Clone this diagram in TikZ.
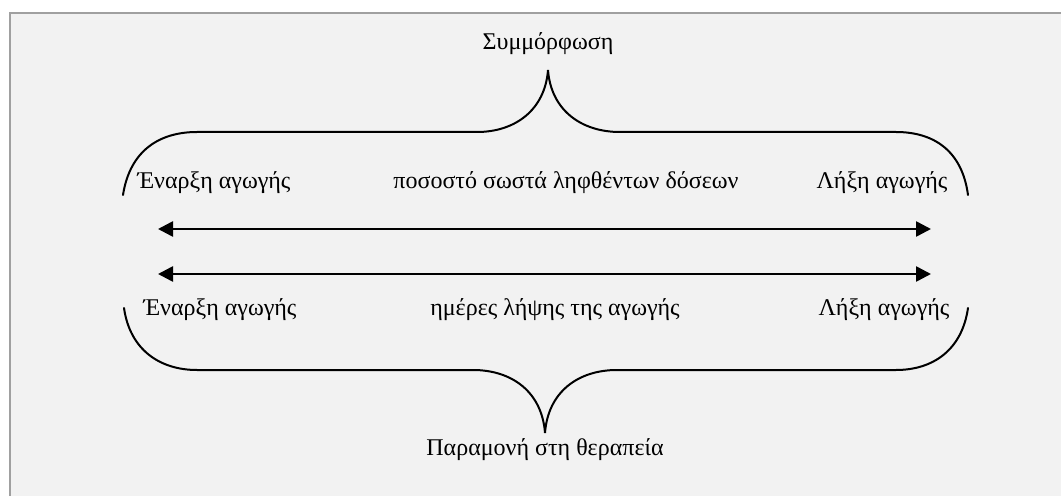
\documentclass[tikz,border=0pt]{standalone}
\usepackage{fontspec}
\setmainfont{Liberation Serif}
\usetikzlibrary{arrows.meta}
\definecolor{panel}{HTML}{F2F2F2}
\definecolor{rim}{HTML}{A0A0A0}
\begin{document}
\begin{tikzpicture}[x=1pt,y=1pt,
  label/.style={inner sep=0pt,font=\fontsize{24}{28}\selectfont},
  brace/.style={line width=2pt,line cap=round},
  span/.style={line width=2.6pt,{Triangle[length=15pt,width=15pt]}-{Triangle[length=15pt,width=15pt]}}]
  % canvas and panel
  \useasboundingbox (0,0) rectangle (1061,496);
  \fill[white] (0,0) rectangle (1061,496);
  \fill[panel] (10,0) rectangle (1061,483);
  \draw[rim,line width=1.5pt] (10,0) -- (10,483) -- (1061,483);

  % headings
  \node[label] (top) at (548,452) {Συμμόρφωση};
  \node[label] (bottom) at (545,46) {Παραμονή στη θεραπεία};

  % upper row of labels
  \node[label] (s1) at (214,313) {Έναρξη αγωγής};
  \node[label] (m1) at (566,313) {ποσοστό σωστά ληφθέντων δόσεων};
  \node[label] (e1) at (882,313) {Λήξη αγωγής};

  % lower row of labels
  \node[label] (s2) at (220,186) {Έναρξη αγωγής};
  \node[label] (m2) at (555,186) {ημέρες λήψης της αγωγής};
  \node[label] (e2) at (884,186) {Λήξη αγωγής};

  % double-headed spans
  \coordinate (a1l) at (158,267);
  \coordinate (a1r) at (931,267);
  \coordinate (a2l) at (158,222);
  \coordinate (a2r) at (931,222);
  \draw[span] (a1l) -- (a1r);
  \draw[span] (a2l) -- (a2r);

  % upper brace
  \draw[brace] (123,301) .. controls (130,346) and (160,364) .. (197,364)
    -- (477,364) .. controls (515,364) and (545,386) .. (548,426)
    .. controls (551,386) and (581,364) .. (620,364)
    -- (896,364) .. controls (933,364) and (962,346) .. (968,301);

  % lower brace
  \draw[brace] (124,188) .. controls (130,146) and (160,126) .. (197,126)
    -- (473,126) .. controls (512,126) and (542,104) .. (545,63)
    .. controls (548,104) and (578,126) .. (617,126)
    -- (896,126) .. controls (933,126) and (962,146) .. (968,188);
\end{tikzpicture}
\end{document}
